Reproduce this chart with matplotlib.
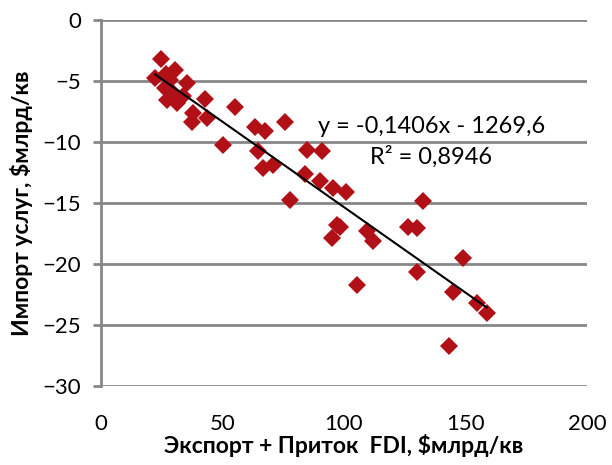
import numpy as np
import matplotlib.pyplot as plt

# Экспорт + приток FDI vs импорт услуг, $млрд/кв
export_fdi = [24.7, 22.4, 30.6, 27.0, 28.5, 26.5, 29.3, 27.3, 31.4, 33.8,
              35.4, 42.9, 38.1, 43.6, 37.4, 55.3, 50.5, 63.5, 67.6, 75.9,
              64.9, 66.9, 71.0, 84.8, 90.9, 84.1, 90.2, 77.9, 95.7, 101.0,
              97.1, 98.5, 95.1, 109.5, 111.9, 126.6, 130.0, 132.5, 149.2, 130.0,
              105.3, 145.1, 154.7, 158.8, 143.1]
import_services = [-3.2, -4.7, -4.1, -4.4, -4.9, -5.5, -5.9, -6.5, -6.8, -6.2,
                   -5.15, -6.4, -7.6, -8.0, -8.3, -7.1, -10.2, -8.7, -9.1, -8.3,
                   -10.7, -12.1, -11.85, -10.6, -10.7, -12.6, -13.2, -14.7, -13.75, -14.1,
                   -16.8, -16.9, -17.85, -17.3, -18.1, -16.9, -17.0, -14.8, -19.5, -20.6,
                   -21.7, -22.3, -23.2, -24.0, -26.7]

x = np.array(export_fdi)
y = np.array(import_services)

plt.rcParams['font.family'] = ['Lato', 'DejaVu Sans']

fig = plt.figure(figsize=(6.12, 4.65), dpi=100)
ax = fig.add_axes([0.1645, 0.169, 0.7945, 0.787])

ax.plot(x, y, 'D', color='#B11116', markersize=9, markeredgewidth=0, zorder=3)

# линейный тренд
k, b = np.polyfit(x, y, 1)
xl = np.array([x.min(), x.max()])
ax.plot(xl, k * xl + b, color='black', linewidth=1.5, zorder=4)

ax.text(0.447, 0.709, 'y = -0,1406x - 1269,6', transform=ax.transAxes,
        fontsize=17, va='center')
ax.text(0.554, 0.627, 'R² = 0,8946', transform=ax.transAxes,
        fontsize=17, va='center')

ax.set_xlim(0, 200)
ax.set_ylim(-30, 0)
ax.set_xticks([0, 50, 100, 150, 200])
ax.set_yticks(range(-30, 1, 5))
ax.grid(axis='y', color='#878787', linewidth=2)
ax.set_axisbelow(True)
for s in ['top', 'right', 'bottom']:
    ax.spines[s].set_visible(False)
ax.spines['left'].set_color('#878787')
ax.spines['left'].set_linewidth(2)
ax.tick_params(axis='y', length=6, width=2, color='#878787', labelsize=16, pad=8)
ax.tick_params(axis='x', length=0, labelsize=16, pad=20)

ax.set_xlabel('Экспорт + Приток  FDI, $млрд/кв', fontsize=16.5, fontweight='bold', labelpad=0)
ax.set_ylabel('Импорт услуг, $млрд/кв', fontsize=16.5, fontweight='bold', labelpad=7)

fig.savefig('out.png', dpi=100)
